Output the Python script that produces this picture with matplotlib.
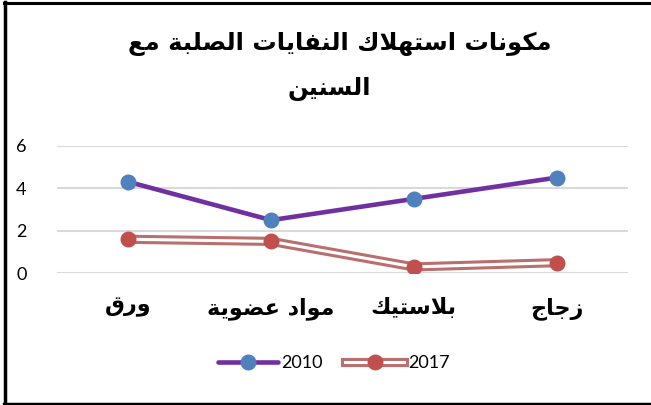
import matplotlib
matplotlib.use("Agg")
import matplotlib.pyplot as plt
from matplotlib.lines import Line2D
from matplotlib.legend_handler import HandlerTuple

# ---------------- data ----------------
title_line1 = "مكونات استهلاك النفايات الصلبة مع"
title_line2 = "السنين"
categories = ["ورق", "مواد عضوية", "بلاستيك", "زجاج"]
series_names = ["2010", "2017"]
values_2010 = [4.3, 2.5, 3.5, 4.5]
values_2017 = [1.6, 1.5, 0.3, 0.5]
y_ticks = [0, 2, 4, 6]

# ------------- minimal Arabic shaping (matplotlib has no bidi/shaping) -------------
_DUAL = {'ب': 0xFE8F, 'ت': 0xFE95, 'ث': 0xFE99, 'ج': 0xFE9D, 'ح': 0xFEA1, 'خ': 0xFEA5,
         'س': 0xFEB1, 'ش': 0xFEB5, 'ص': 0xFEB9, 'ض': 0xFEBD, 'ط': 0xFEC1, 'ظ': 0xFEC5,
         'ع': 0xFEC9, 'غ': 0xFECD, 'ف': 0xFED1, 'ق': 0xFED5, 'ك': 0xFED9, 'ل': 0xFEDD,
         'م': 0xFEE1, 'ن': 0xFEE5, 'ه': 0xFEE9, 'ي': 0xFEF1, 'ى': 0xFEEF}
_RIGHT = {'ا': 0xFE8D, 'ة': 0xFE93, 'د': 0xFEA9, 'ذ': 0xFEAB, 'ر': 0xFEAD, 'ز': 0xFEAF,
          'و': 0xFEED, 'أ': 0xFE83, 'إ': 0xFE87, 'آ': 0xFE81}


def shape_arabic(text):
    toks = []
    i = 0
    while i < len(text):
        if text[i] == 'ل' and i + 1 < len(text) and text[i + 1] == 'ا':
            toks.append('LA')
            i += 2
        else:
            toks.append(text[i])
            i += 1
    out = []
    for k, t in enumerate(toks):
        prev = toks[k - 1] if k > 0 else None
        nxt = toks[k + 1] if k + 1 < len(toks) else None
        if t == 'LA':
            out.append(chr(0xFEFC if (prev in _DUAL) else 0xFEFB))
            continue
        if t in _DUAL:
            cp = prev in _DUAL
            cn = nxt is not None and (nxt in _DUAL or nxt in _RIGHT or nxt == 'LA')
            base = _DUAL[t]
            if cp and cn:
                out.append(chr(base + 3))
            elif cp:
                out.append(chr(base + 1))
            elif cn:
                out.append(chr(base + 2))
            else:
                out.append(chr(base))
        elif t in _RIGHT:
            cp = prev in _DUAL
            out.append(chr(_RIGHT[t] + (1 if cp else 0)))
        else:
            out.append(t)
    return ''.join(out)[::-1]


# ---------------- figure ----------------
W, H = 651, 405
fig = plt.figure(figsize=(W / 100, H / 100), dpi=100)
fig.patch.set_facecolor("white")

ax = fig.add_axes([57 / W, 1 - 273.3 / H, 571 / W, 127.6 / H])
x = list(range(len(categories)))

purple = "#7030A0"
blue = "#4F81BD"
rose = "#B86F6D"
red = "#C0504D"

ax.plot(x, values_2010, color=purple, lw=3.3, solid_capstyle="round", zorder=3,
        marker="o", markersize=10.5, markerfacecolor=blue, markeredgecolor=blue)
ax.plot(x, values_2017, color=rose, lw=6.6, solid_joinstyle="miter", zorder=3)
ax.plot(x, values_2017, color="white", lw=2.2, solid_joinstyle="miter", zorder=3)
ax.plot(x, values_2017, ls="none", marker="o", markersize=10.5,
        markerfacecolor=red, markeredgecolor=red, zorder=4)

ax.set_xlim(-0.5, len(categories) - 0.5)
ax.set_ylim(0, 6)
ax.set_yticks(y_ticks)
ax.set_yticklabels([str(v) for v in y_ticks], fontsize=13, family="Lato")
ax.set_xticks(x)
ax.set_xticklabels([shape_arabic(c) for c in categories], fontsize=16,
                   fontweight="bold", family="DejaVu Sans")
ax.tick_params(axis="y", length=0, pad=22)
ax.tick_params(axis="x", length=0, pad=17)
ax.grid(axis="y", color="#D9D9D9", lw=1.5)
ax.set_axisbelow(True)
for s in ax.spines.values():
    s.set_visible(False)

# title
fig.text(0.522, 1 - 44 / H, shape_arabic(title_line1), ha="center", va="center",
         fontsize=17.5, fontweight="bold", family="DejaVu Sans")
fig.text(0.506, 1 - 89 / H, shape_arabic(title_line2), ha="center", va="center",
         fontsize=17.5, fontweight="bold", family="DejaVu Sans")

# legend
h2010 = Line2D([], [], color=purple, lw=3.3, solid_capstyle="round", marker="o",
               markersize=10.5, markerfacecolor=blue, markeredgecolor=blue)
h2017 = (Line2D([], [], color=rose, lw=6.6),
         Line2D([], [], color="white", lw=2.2),
         Line2D([], [], ls="none", marker="o", markersize=10.5,
                markerfacecolor=red, markeredgecolor=red))
leg = fig.legend([h2010, h2017], series_names, loc="center",
                 bbox_to_anchor=(334 / W, 1 - 363 / H), ncol=2, frameon=False,
                 handler_map={tuple: HandlerTuple(ndivide=1, pad=0)},
                 prop={"family": "Lato", "size": 13}, handlelength=3.3,
                 handletextpad=0.2, columnspacing=1.2)

# border (left, top, bottom)
fig.add_artist(Line2D([5 / W, 5 / W], [1 - 2 / H, 1 - 403.5 / H], color="black", lw=2.5,
                      transform=fig.transFigure))
fig.add_artist(Line2D([4 / W, 1], [1 - 2.5 / H, 1 - 2.5 / H], color="black", lw=2.2,
                      transform=fig.transFigure))
fig.add_artist(Line2D([4 / W, 1], [1 - 403.5 / H, 1 - 403.5 / H], color="black", lw=2.5,
                      transform=fig.transFigure))

fig.savefig("out.png", dpi=100, facecolor="white")
